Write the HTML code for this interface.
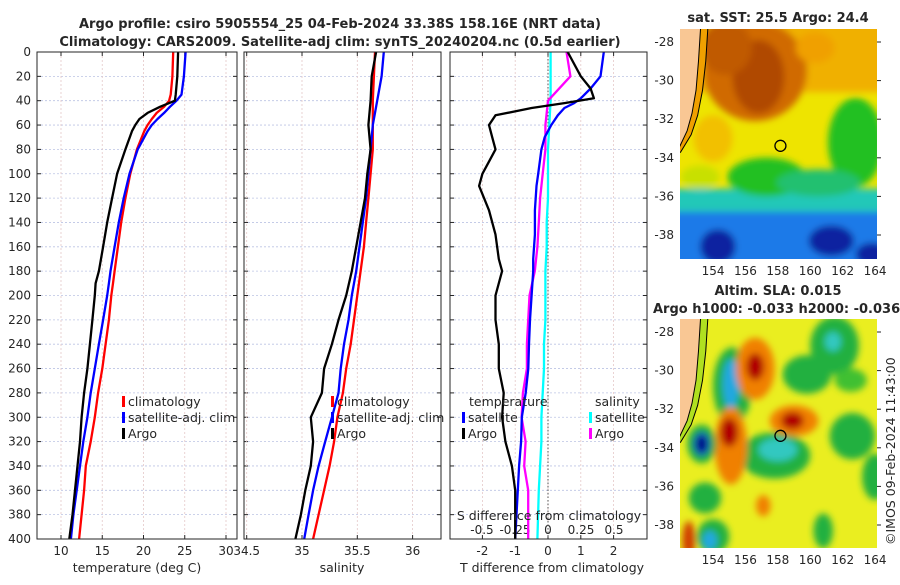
<!DOCTYPE html>
<html><head><meta charset="utf-8"><style>
body{margin:0;background:#fff;width:900px;height:580px;overflow:hidden}
svg text{font-family:"DejaVu Sans","Liberation Sans",sans-serif;fill:#262626}
</style></head><body>
<svg id="chart" width="900" height="580" viewBox="0 0 900 580" xmlns="http://www.w3.org/2000/svg">
<defs>
<filter id="blur1" x="-20%" y="-20%" width="140%" height="140%"><feGaussianBlur stdDeviation="3.5"/></filter>
<clipPath id="clipM1"><rect x="680" y="29" width="197" height="230"/></clipPath>
<clipPath id="clipM2"><rect x="680" y="319" width="197" height="229"/></clipPath>
</defs>
<text x="340" y="28" text-anchor="middle" font-weight="bold" font-size="13">Argo profile: csiro 5905554_25 04-Feb-2024 33.38S 158.16E (NRT data)</text>
<text x="340" y="46" text-anchor="middle" font-weight="bold" font-size="13">Climatology: CARS2009. Satellite-adj clim: synTS_20240204.nc (0.5d earlier)</text>
<text x="778" y="22" text-anchor="middle" font-weight="bold" font-size="13">sat. SST: 25.5 Argo: 24.4</text>
<text x="778" y="295" text-anchor="middle" font-weight="bold" font-size="13">Altim. SLA: 0.015</text>
<text x="653" y="313" font-weight="bold" font-size="13">Argo h1000: -0.033 h2000: -0.036</text>
<text transform="translate(895,545) rotate(-90)" font-size="12.5">©IMOS 09-Feb-2024 11:43:00</text>
<g id="g"></g>
</svg>
<script>
// ---- data ----
const depths = [0,20,40,60,80,100,120,140,160,180,200,220,240,260,280,300,320,340,360,380,400];
const tempDepths = [0,20,35,40,45,50,55,60,65,80,100,120,140,160,180,190,200,220,240,260,280,300,320,340,360,380,400];
const tempClim =   [23.6,23.5,23.3,23.1,22.5,21.6,21.0,20.5,20.1,19.2,18.4,17.8,17.3,16.9,16.5,16.3,16.1,15.8,15.4,15.0,14.5,14.1,13.6,13.0,12.8,12.5,12.2];
const tempSat =    [25.1,24.9,24.6,24.0,23.2,22.5,21.7,21.0,20.5,19.3,18.3,17.6,17.0,16.5,16.0,15.8,15.6,15.1,14.6,14.1,13.6,13.2,12.7,12.3,11.9,11.5,11.2];
const tempArgo =   [24.2,24.1,23.9,23.8,22.0,20.5,19.5,19.0,18.6,17.8,16.8,16.2,15.6,15.1,14.6,14.2,14.1,13.8,13.5,13.2,12.8,12.5,12.3,12.0,11.7,11.4,11.0];
const salClim = [35.66,35.65,35.64,35.64,35.64,35.62,35.60,35.58,35.56,35.53,35.50,35.47,35.44,35.40,35.37,35.32,35.29,35.25,35.20,35.15,35.10];
const salSat =  [35.74,35.72,35.68,35.64,35.62,35.60,35.58,35.55,35.52,35.49,35.45,35.42,35.38,35.35,35.33,35.27,35.21,35.15,35.10,35.06,35.02];
const salArgo = [35.67,35.63,35.62,35.60,35.62,35.59,35.57,35.53,35.49,35.45,35.40,35.33,35.27,35.20,35.18,35.08,35.10,35.08,35.03,34.99,34.94];
const tdiffDepths = [0,20,30,38,42,46,52,60,70,80,90,100,110,130,150,170,180,200,220,240,260,280,300,320,340,360,380,400];
const tdiffArgo = [0.6,1.0,1.3,1.4,0.5,-0.5,-1.6,-1.8,-1.7,-1.6,-1.8,-2.0,-2.1,-1.8,-1.6,-1.5,-1.4,-1.6,-1.6,-1.5,-1.5,-1.35,-1.4,-1.3,-1.1,-1.0,-1.0,-1.0];
const tdiffSat =  [1.7,1.6,1.3,1.0,0.8,0.5,0.3,0.1,-0.1,-0.2,-0.25,-0.3,-0.35,-0.4,-0.4,-0.45,-0.45,-0.5,-0.55,-0.58,-0.6,-0.68,-0.8,-0.82,-0.88,-0.92,-0.96,-1.0];
const sdiffSat =  [0.02,0.02,0.02,0.01,0.0,0.0,0.0,-0.01,-0.01,-0.02,-0.02,-0.02,-0.03,-0.03,-0.04,-0.05,-0.05,-0.06,-0.07,-0.075,-0.08];
const sdiffArgo = [0.14,0.17,0.0,-0.02,-0.02,-0.04,-0.06,-0.07,-0.08,-0.1,-0.14,-0.15,-0.16,-0.16,-0.19,-0.2,-0.17,-0.18,-0.15,-0.15,-0.15];
const yTicks = [0,20,40,60,80,100,120,140,160,180,200,220,240,260,280,300,320,340,360,380,400];
const tempTicks = [10,15,20,25,30];
const salTicks = [34.5,35,35.5,36];
const tdiffTicks = [-2,-1,0,1,2];
const sdiffTicks = [-0.5,-0.25,0,0.25,0.5];
const sdiffLabels = ['-0.5','-0.25','0','0.25','0.5'];
const latTicks = [-28,-30,-32,-34,-36,-38];
const lonTicks = [154,156,158,160,162,164];
const argoPos = [158.16,-33.38];

// ---- helpers ----
const NS='http://www.w3.org/2000/svg';
const G=document.getElementById('g');
function mk(tag,attrs,parent){const e=document.createElementNS(NS,tag);for(const k in attrs)e.setAttribute(k,attrs[k]);(parent||G).appendChild(e);return e;}
const Y0=52,Y1=539;
const yS=d=>Y0+(d/400)*(Y1-Y0);
const tX=v=>61+(v-10)*(165/20);
const sX=v=>302+(v-35)*110.6;
const tdX=v=>548+v*32.8;
const sdX=v=>548+v*132;
const panels=[{x:37,w:200,n:'temperature'},{x:244,w:197,n:'salinity'},{x:450,w:197,n:'difference'}];

panels.forEach(p=>{
  const r=mk('rect',{x:p.x,y:Y0,width:p.w,height:Y1-Y0,fill:'#fff',stroke:'none'});
  
  
  yTicks.forEach(d=>{
    const l=mk('line',{x1:p.x,x2:p.x+p.w,y1:yS(d),y2:yS(d),stroke:'#bcc4e4','stroke-width':0.8,'stroke-dasharray':'2,2'});
    
    
    mk('line',{x1:p.x,x2:p.x+4,y1:yS(d),y2:yS(d),stroke:'#262626'});
    mk('line',{x1:p.x+p.w,x2:p.x+p.w-4,y1:yS(d),y2:yS(d),stroke:'#262626'});
  });
});
yTicks.forEach(d=>{
  const t=mk('text',{x:31,y:yS(d)+4,'text-anchor':'end','font-size':12});
  t.textContent=d;
  
  
});
function xgrid(ticks,fx,labels,ly){
  ticks.forEach((v,i)=>{
    const x=fx(v);
    const l=mk('line',{x1:x,x2:x,y1:Y0,y2:Y1,stroke:'#e4c8c8','stroke-width':0.8,'stroke-dasharray':'2,2'});
    
    
    mk('line',{x1:x,x2:x,y1:Y1,y2:Y1-4,stroke:'#262626'});
    mk('line',{x1:x,x2:x,y1:Y0,y2:Y0+4,stroke:'#262626'});
    const t=mk('text',{x:x,y:ly,'text-anchor':'middle','font-size':12});
    t.textContent=labels?labels[i]:v;
    
    
  });
}
xgrid(tempTicks,tX,null,555);
xgrid(salTicks,sX,null,555);
xgrid(tdiffTicks,tdX,null,555);
sdiffTicks.forEach((v,i)=>{
  const t=mk('text',{x:sdX(v),y:534,'text-anchor':'middle','font-size':12});
  t.textContent=sdiffLabels[i];
  
  
});
const zl=mk('line',{x1:tdX(0),x2:tdX(0),y1:Y0,y2:Y1,stroke:'#555','stroke-width':1,'stroke-dasharray':'1.5,2'});



function series(ds,vals,fx,color,name){
  const pts=vals.map((v,i)=>fx(v).toFixed(1)+','+yS(ds[i]).toFixed(1)).join(' ');
  const pl=mk('polyline',{points:pts,fill:'none',stroke:color,'stroke-width':2.3,'stroke-linejoin':'round'});
  
  
}
series(tempDepths,tempClim,tX,'#ff0000','temp-climatology-line');
series(tempDepths,tempSat,tX,'#0000ff','temp-satellite-line');
series(tempDepths,tempArgo,tX,'#000000','temp-argo-line');
series(depths,salClim,sX,'#ff0000','sal-climatology-line');
series(depths,salSat,sX,'#0000ff','sal-satellite-line');
series(depths,salArgo,sX,'#000000','sal-argo-line');
series(depths,sdiffSat,sdX,'#00ffff','sdiff-satellite-line');
series(depths,sdiffArgo,sdX,'#ff00ff','sdiff-argo-line');
series(tdiffDepths,tdiffSat,tdX,'#0000ff','tdiff-satellite-line');
series(tdiffDepths,tdiffArgo,tdX,'#000000','tdiff-argo-line');

panels.forEach(p=>{
  const b=mk('rect',{x:p.x,y:Y0,width:p.w,height:Y1-Y0,fill:'none',stroke:'#262626','stroke-width':1});
  
  
});
function legend(x,y,color,label,name){
  const r=mk('rect',{x:x,y:y-10,width:3,height:11,fill:color});
  
  
  const t=mk('text',{x:x+6,y:y,'font-size':12.5});
  t.textContent=label;
  
  
}
legend(122,406,'#ff0000','climatology','legend-climatology');
legend(122,422,'#0000ff','satellite-adj. clim','legend-satellite');
legend(122,438,'#000000','Argo','legend-argo');
legend(331,406,'#ff0000','climatology','legend2-climatology');
legend(331,422,'#0000ff','satellite-adj. clim','legend2-satellite');
legend(331,438,'#000000','Argo','legend2-argo');
legend(462,422,'#0000ff','satellite','legend3-t-satellite');
legend(462,438,'#000000','Argo','legend3-t-argo');
legend(589,422,'#00ffff','satellite','legend3-s-satellite');
legend(589,438,'#ff00ff','Argo','legend3-s-argo');
[[469,406,'temperature','legend-temperature-header'],[595,406,'salinity','legend-salinity-header']].forEach(a=>{
  const t=mk('text',{x:a[0],y:a[1],'font-size':12.5});t.textContent=a[2];
  
  
});
[[137,572,'temperature (deg C)','x-axis-title-temperature'],[342,572,'salinity','x-axis-title-salinity'],[552,572,'T difference from climatology','x-axis-title-tdiff'],[549,520,'S difference from climatology','x-axis-title-sdiff']].forEach(a=>{
  const t=mk('text',{x:a[0],y:a[1],'font-size':12.5,'text-anchor':'middle'});t.textContent=a[2];
  
  
});

// ---- maps ----
function drawMap(top,h,clip,blobs,base,name,stripColor){
  const lx=l=>680+(l-151.96)*16.2;
  const ly=la=>top+13+(-28-la)*19.3;
  const g=mk('g',{'clip-path':'url(#'+clip+')'});
  
  
  mk('rect',{x:680,y:top,width:197,height:h,fill:base},g);
  const bg=mk('g',{filter:'url(#blur1)'},g);
  blobs.forEach(b=>{
    if(b[0]==='r') mk('rect',{x:lx(b[1]),y:ly(b[2]),width:lx(b[3])-lx(b[1]),height:ly(b[4])-ly(b[2]),fill:b[5]},bg);
    else mk('ellipse',{cx:lx(b[0]),cy:ly(b[1]),rx:b[2]*16.2,ry:b[3]*19.3,fill:b[4]},bg);
  });
  const shelf=[[153.7,-27],[153.55,-29],[153.35,-30.5],[153.05,-31.8],[152.65,-32.8],[152.0,-33.7],[151.5,-34]];
  const strip=mk('polygon',{points:[[151.5,-27]].concat(shelf).map(c=>lx(c[0])+','+ly(c[1])).join(' '),fill:stripColor,stroke:'#000','stroke-width':1},g);
  
  
  const coast=[[151.5,-27],[153.25,-27],[153.1,-29],[152.95,-30.5],[152.7,-31.7],[152.4,-32.6],[151.95,-33.4],[151.5,-33.6]];
  const land=mk('polygon',{points:coast.map(c=>lx(c[0])+','+ly(c[1])).join(' '),fill:'#f9c794',stroke:'#000','stroke-width':1},g);
  
  
  const c=mk('circle',{cx:lx(argoPos[0]),cy:ly(argoPos[1]),r:5.5,fill:'none',stroke:'#000','stroke-width':1.3},g);
  
  
  latTicks.forEach(la=>{
    const t=mk('text',{x:674,y:ly(la)+4,'text-anchor':'end','font-size':12});t.textContent=la;
    
    
    mk('line',{x1:877,x2:881,y1:ly(la),y2:ly(la),stroke:'#262626'});
  });
  lonTicks.forEach(lo=>{
    const t=mk('text',{x:lx(lo),y:top+h+16,'text-anchor':'middle','font-size':12});t.textContent=lo;
    
    
  });
}
const sstBlobs=[
  ['r',150,-35.6,166,-40,'#20c8b8'],
  ['r',150,-36.8,166,-40,'#1a7ae8'],
  ['r',150,-26,166,-30.6,'#f0b000'],
  [156.6,-29.5,3.2,2.6,'#d06a00'],
  [156.8,-29.8,1.6,1.9,'#b04800'],
  [154.8,-28.3,1.6,1.4,'#c05a00'],
  [160.3,-28.3,1.2,0.8,'#f0a000'],
  [154.0,-33.0,1.2,1.2,'#f2c000'],
  [162.8,-33.2,1.7,2.3,'#20c020'],
  [157.3,-35,2.4,1.0,'#20c020'],
  [160.5,-35.3,2.6,0.7,'#20c070'],
  [153.2,-35.0,1.2,0.6,'#c8e000'],
  [154.3,-38.6,1.1,0.9,'#0a20a0'],
  [161.3,-38.3,1.4,0.8,'#0a20a0'],
  [163.8,-39,1,0.6,'#0a20a0']
];
drawMap(29,230,'clipM1',sstBlobs,'#eee400','sst-map','#f0a000');
const slaBlobs=[
  [159.8,-30.2,1.5,1.0,'#20b040'],
  [161.5,-28.7,1.5,1.5,'#20b040'],
  [161.4,-28.5,0.5,0.5,'#30c8c0'],
  [162.5,-30.5,1.0,0.6,'#40c030'],
  [162.6,-33.4,1.4,1.2,'#20b040'],
  [164,-35.5,0.8,1.2,'#20b040'],
  [153.5,-36.6,1.0,0.8,'#20b040'],
  [160.8,-38.3,0.6,0.9,'#20b040'],
  [154,-38.6,1.0,0.9,'#20b040'],
  [153.8,-38.8,0.45,0.5,'#20a8e0'],
  [157.8,-34.4,2.2,1.2,'#20b040'],
  [158.0,-34.1,1.2,0.6,'#30c8c0'],
  [155.2,-30.8,1.2,2.0,'#20b040'],
  [155.1,-30.7,0.5,1.3,'#20a8e0'],
  [156.6,-29.9,1.2,1.6,'#f08000'],
  [156.6,-29.8,0.55,0.7,'#b00000'],
  [159,-32.6,1.5,0.8,'#f08000'],
  [158.9,-32.6,0.7,0.45,'#b00000'],
  [155.1,-33.9,1.0,2.0,'#f08000'],
  [155,-33.2,0.55,0.75,'#b00000'],
  [157.1,-37.0,0.45,0.55,'#f08000'],
  [152.5,-38.8,0.4,1.0,'#d04000'],
  [153.3,-33.8,0.9,1.0,'#20b040'],
  [153.3,-33.8,0.5,0.6,'#1040c0'],
  [153.3,-33.8,0.3,0.4,'#000080']
];
drawMap(319,229,'clipM2',slaBlobs,'#eaee20','sla-map','#b0e020');
</script>
</body></html>
